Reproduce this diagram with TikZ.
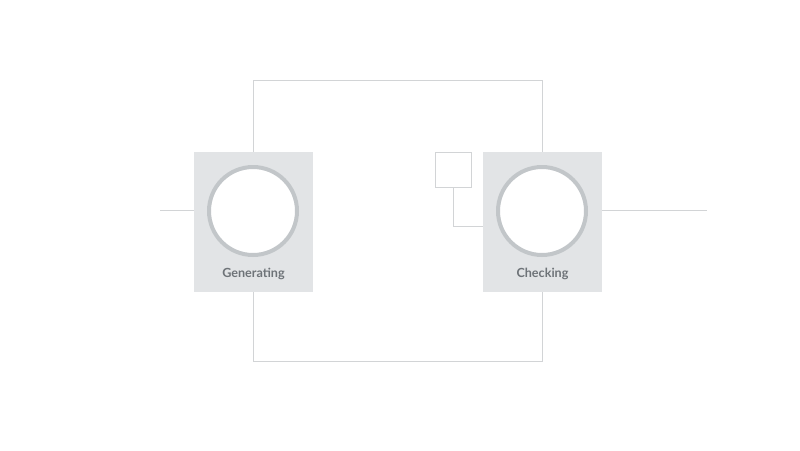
\documentclass[tikz,border=0pt]{standalone}
\usepackage{fontspec}
\setsansfont{Lato}
\definecolor{boxfill}{HTML}{E2E4E6}
\definecolor{ring}{HTML}{C2C6C9}
\definecolor{wire}{HTML}{D2D4D6}
\definecolor{label}{HTML}{6E7378}
\begin{document}
\begin{tikzpicture}[x=1pt,y=-1pt,
  stage/.style={draw=none,fill=boxfill,minimum width=119pt,minimum height=140pt,inner sep=0pt},
  disc/.style={circle,draw=ring,line width=4pt,fill=white,minimum size=88pt,inner sep=0pt},
  stagelabel/.style={font=\sffamily\bfseries\fontsize{12.6}{14}\selectfont,text=label},
  smallbox/.style={draw=wire,line width=1pt,fill=white,minimum width=36pt,minimum height=35pt,inner sep=0pt},
  wireline/.style={draw=wire,line width=1pt}]
\useasboundingbox (0,0) rectangle (800,450);
\node[stage] (gen) at (253.5,222) {};
\node[stage] (chk) at (542.5,222) {};
\node[disc] (gend) at (253,211) {};
\node[disc] (chkd) at (542,211) {};
\node[stagelabel] (genl) at (253.5,273.5) {Generating};
\node[stagelabel] (chkl) at (542.5,273.5) {Checking};
\node[smallbox] (sb) at (453,169.5) {};
\coordinate (inL) at (160,210);
\coordinate (outR) at (707,210);
\draw[wireline] (inL) -- (inL -| gen.west);
\draw[wireline] (chk.east |- outR) -- (outR);
\draw[wireline] (gen.north -| gend) -- ++(0,-71) -| (chk.north -| chkd);
\draw[wireline] (gen.south -| gend) -- ++(0,69) -| (chk.south -| chkd);
\draw[wireline] (sb.south) |- (chk.west |- 0,226);
\end{tikzpicture}
\end{document}
